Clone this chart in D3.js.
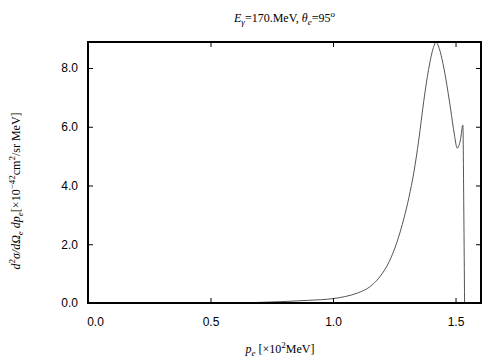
<!DOCTYPE html>
<html>
<head>
<meta charset="utf-8">
<script src="https://cdn.jsdelivr.net/npm/d3@7"></script>
<style>
  body { margin: 0; background: #fff; }
  .tick text { font-family: "Liberation Sans", Arial, sans-serif; font-size: 12px; }
  .lbl { font-family: "Liberation Serif", "Times New Roman", serif; font-size: 12px; }
</style>
</head>
<body>
<div id="chart"></div>
<script>
let w = 504;
let h = 360;

// momentum p_e [x10^2 MeV] and cross section values
let pe = [0.62, 0.70, 0.80, 0.90, 1.00, 1.05, 1.10, 1.15, 1.19, 1.23, 1.26, 1.29, 1.31, 1.33, 1.35, 1.37, 1.39, 1.41, 1.42, 1.43, 1.445, 1.46, 1.48, 1.495, 1.507, 1.52, 1.53, 1.534, 1.537];
let sigma = [0.0, 0.02, 0.05, 0.09, 0.15, 0.22, 0.34, 0.55, 0.88, 1.42, 2.05, 2.9, 3.6, 4.45, 5.55, 6.85, 7.95, 8.7, 8.88, 8.75, 8.3, 7.65, 6.6, 5.75, 5.27, 5.55, 6.06, 3.0, 0.0];

let xTicks = [0.0, 0.5, 1.0, 1.5];
let yTicks = [0.0, 2.0, 4.0, 6.0, 8.0];

let plotLeft = 88, plotRight = 481, plotTop = 42, plotBottom = 303;

let svg = d3.select("#chart").append("svg")
  .attr("width", w)
  .attr("height", h);

let xScale = d3.scaleLinear().domain([0, 1.604]).range([plotLeft, plotRight]);
let yScale = d3.scaleLinear().domain([0, 8.885]).range([plotBottom, plotTop]);

let data = pe.map((p, i) => ({ p: p, s: sigma[i] }));

// curve
let line = d3.line()
  .x(d => xScale(d.p))
  .y(d => yScale(d.s))
  .curve(d3.curveMonotoneX);

svg.append("path")
  .datum(data)
  .attr("d", line)
  .attr("fill", "none")
  .attr("stroke", "#555")
  .attr("stroke-width", 1);

// axes with inward ticks
let xAxis = d3.axisBottom(xScale).tickValues(xTicks).tickFormat(d3.format(".1f")).tickSizeInner(-5).tickSizeOuter(0).tickPadding(14);
let xAxisTop = d3.axisTop(xScale).tickValues(xTicks).tickFormat("").tickSizeInner(-5).tickSizeOuter(0);
let yAxis = d3.axisLeft(yScale).tickValues(yTicks).tickFormat(d3.format(".1f")).tickSizeInner(-5).tickSizeOuter(0).tickPadding(10);
let yAxisRight = d3.axisRight(yScale).tickValues(yTicks).tickFormat("").tickSizeInner(-5).tickSizeOuter(0);

let groups = [
  [xAxis, `translate(0,${plotBottom})`],
  [xAxisTop, `translate(0,${plotTop})`],
  [yAxis, `translate(${plotLeft},0)`],
  [yAxisRight, `translate(${plotRight},0)`]
].map(([ax, tr]) => {
  let g = svg.append("g").attr("transform", tr).call(ax);
  g.select(".domain").remove();
  g.selectAll(".tick line").attr("stroke", "#000");
  g.selectAll(".tick text").attr("fill", "#000");
  return g;
});
// first x label sits a bit right of the corner, like the original
groups[0].selectAll(".tick text").filter(d => d === 0).attr("dx", 7);

// frame
svg.append("rect")
  .attr("x", plotLeft)
  .attr("y", plotTop)
  .attr("width", plotRight - plotLeft)
  .attr("height", plotBottom - plotTop)
  .attr("fill", "none")
  .attr("stroke", "#000")
  .attr("stroke-width", 2);

// title
let title = svg.append("text").attr("class", "lbl")
  .attr("x", (plotLeft + plotRight) / 2).attr("y", 22).attr("text-anchor", "middle");
title.append("tspan").attr("font-style", "italic").text("E");
title.append("tspan").attr("font-style", "italic").attr("font-size", 9).attr("dy", 3).text("γ");
title.append("tspan").attr("dy", -3).text("=170.MeV,  ");
title.append("tspan").attr("font-style", "italic").text("θ");
title.append("tspan").attr("font-style", "italic").attr("font-size", 9).attr("dy", 3).text("e");
title.append("tspan").attr("dy", -3).text("=95");
title.append("tspan").attr("font-size", 9).attr("dy", -5).text("o");

// x label
let xl = svg.append("text").attr("class", "lbl")
  .attr("x", 280).attr("y", 353).attr("text-anchor", "middle");
xl.append("tspan").attr("font-style", "italic").text("p");
xl.append("tspan").attr("font-style", "italic").attr("font-size", 9).attr("dy", 3).text("e");
xl.append("tspan").attr("dy", -3).text(" [×10");
xl.append("tspan").attr("font-size", 9).attr("dy", -5).text("2");
xl.append("tspan").attr("dy", 5).text("MeV]");

// y label
let yl = svg.append("text").attr("class", "lbl")
  .attr("transform", "translate(20,191) rotate(-90)").attr("text-anchor", "middle");
yl.append("tspan").attr("font-style", "italic").text("d");
yl.append("tspan").attr("font-size", 9).attr("dy", -5).text("2");
yl.append("tspan").attr("font-style", "italic").attr("dy", 5).text("σ/dΩ");
yl.append("tspan").attr("font-style", "italic").attr("font-size", 9).attr("dy", 3).text("e");
yl.append("tspan").attr("font-style", "italic").attr("dy", -3).text(" dp");
yl.append("tspan").attr("font-style", "italic").attr("font-size", 9).attr("dy", 3).text("e");
yl.append("tspan").attr("dy", -3).text("[×10");
yl.append("tspan").attr("font-size", 9).attr("dy", -5).text("−42");
yl.append("tspan").attr("dy", 5).text("cm");
yl.append("tspan").attr("font-size", 9).attr("dy", -5).text("2");
yl.append("tspan").attr("dy", 5).text("/sr MeV]");
</script>
</body>
</html>
